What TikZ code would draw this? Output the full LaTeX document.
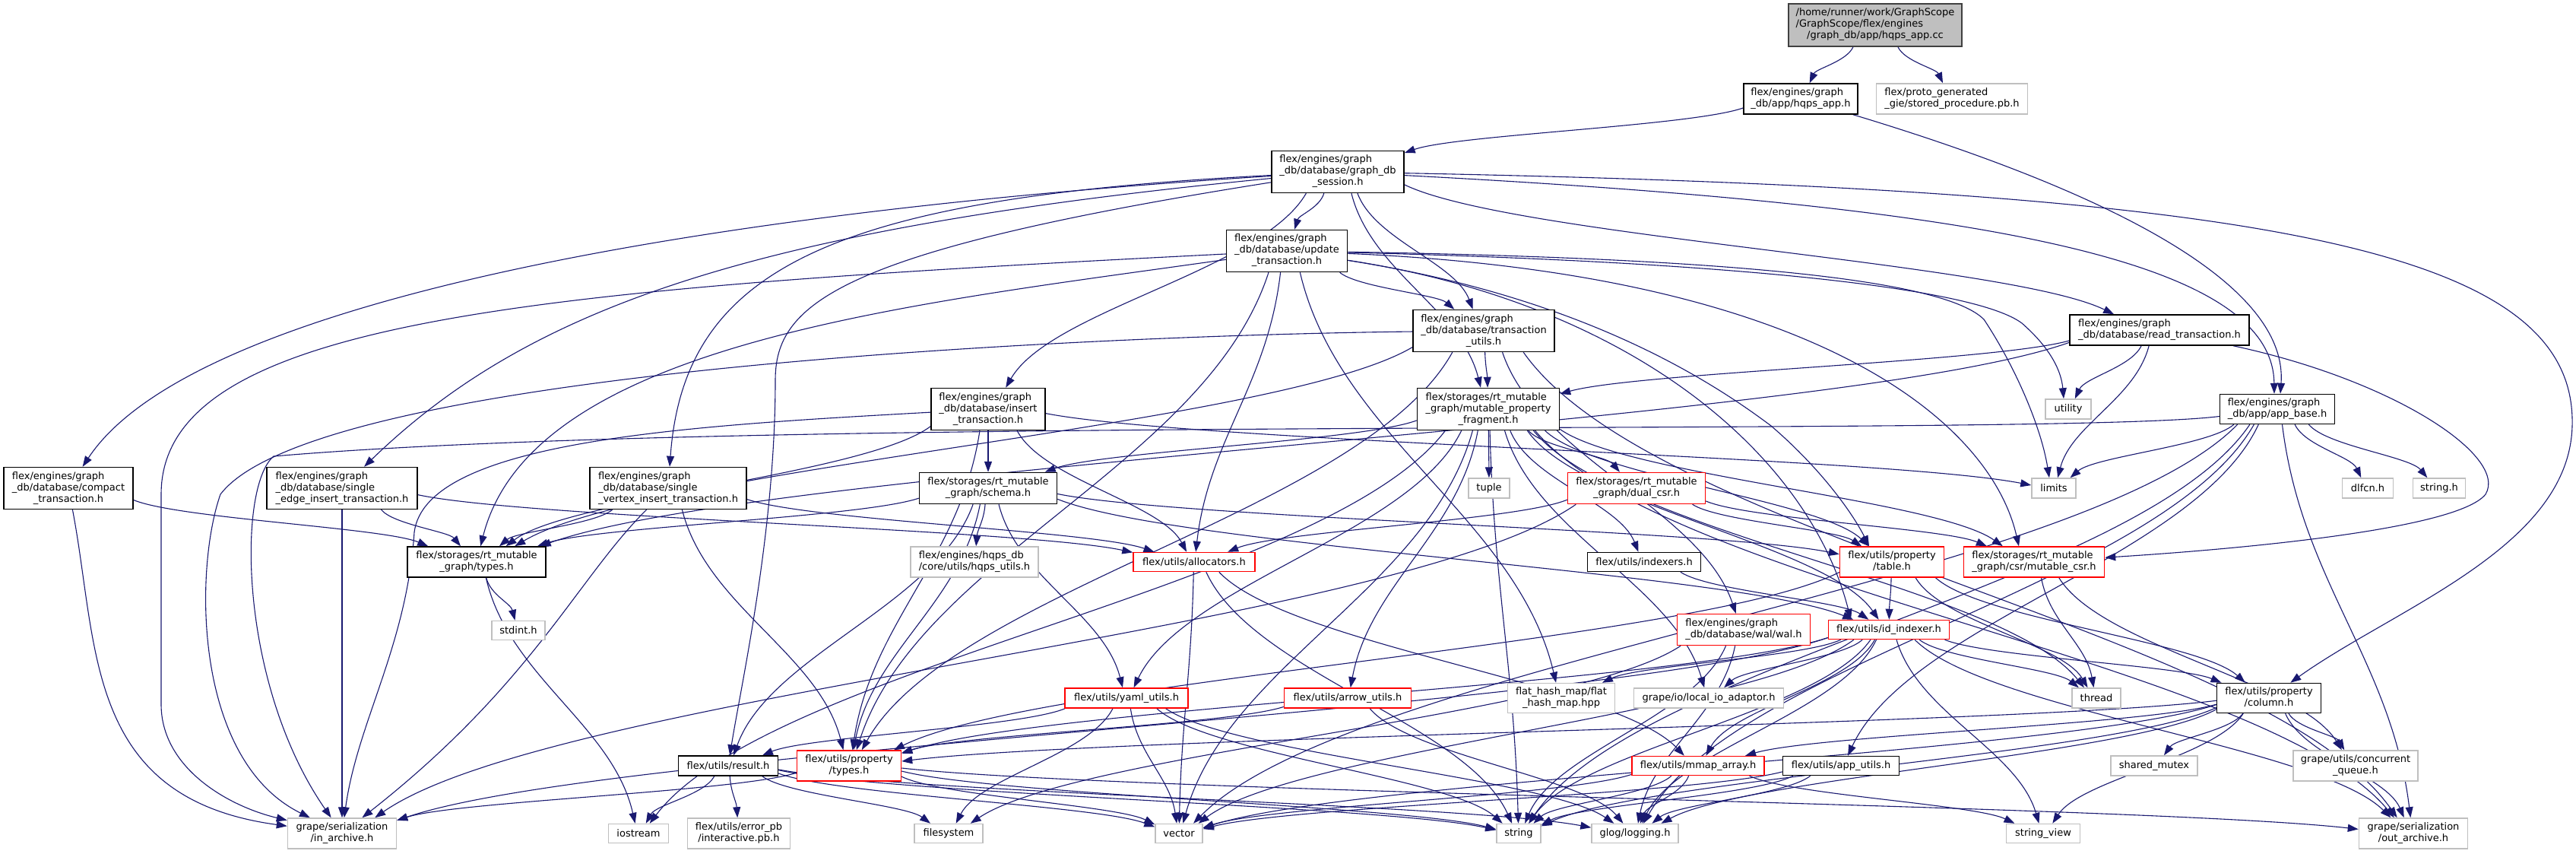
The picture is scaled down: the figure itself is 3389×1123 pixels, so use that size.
\documentclass[tikz,border=0pt]{standalone}
\usepackage{fontspec}
\setmainfont{DejaVu Sans}
\usetikzlibrary{arrows.meta,calc}
\definecolor{edgec}{HTML}{191970}
\definecolor{grayb}{HTML}{BFBFBF}
\newcommand{\lb}[2]{\begin{tabular}{@{}l@{}}#1\\\multicolumn{1}{@{}c@{}}{#2}\end{tabular}}
\pgfdeclarelayer{edges}
\pgfsetlayers{edges,main}
\tikzset{
  box/.style={draw=black, line width=1.5pt, fill=white, inner sep=0pt, font=\fontsize{13}{15}\selectfont},
  redbox/.style={box, draw=red},
  graybox/.style={box, draw=grayb},
  rootbox/.style={box, fill=grayb, draw=black!75},
  edge/.style={draw=edgec, line width=1.1pt, -{Triangle[length=14pt,width=10pt]}},
}
\newcommand{\bx}[6]{\node[#1, minimum width=#4pt, minimum height=#5pt] (#6) at (#2,#3)}
\begin{document}
\begin{tikzpicture}[x=1pt,y=-1pt]
\useasboundingbox (0,0) rectangle (3389,1123);
% rank 0-2
\bx{rootbox}{2467}{33}{228}{56}{root} {\lb{/home/runner/work/GraphScope\\/GraphScope/flex/engines}{/graph\_db/app/hqps\_app.cc}};
\bx{box}{2369}{130}{150}{40}{hqpsh} {\lb{flex/engines/graph}{\_db/app/hqps\_app.h}};
\bx{graybox}{2568}{130}{199}{40}{stored} {\lb{flex/proto\_generated}{\_gie/stored\_procedure.pb.h}};
\bx{box}{1760}{226}{174}{55}{session} {\lb{flex/engines/graph\\\_db/database/graph\_db}{\_session.h}};
\bx{box}{1693}{330}{159}{55}{update} {\lb{flex/engines/graph\\\_db/database/update}{\_transaction.h}};
\bx{box}{1952}{435}{186}{55}{txnutils} {\lb{flex/engines/graph\\\_db/database/transaction}{\_utils.h}};
\bx{box}{2841}{434}{236}{40}{readtxn} {\lb{flex/engines/graph}{\_db/database/read\_transaction.h}};
% rank 5
\bx{box}{1958}{538}{187}{55}{fragment} {\lb{flex/storages/rt\_mutable\\\_graph/mutable\_property}{\_fragment.h}};
\bx{box}{1300}{538}{150}{55}{insert} {\lb{flex/engines/graph\\\_db/database/insert}{\_transaction.h}};
\bx{graybox}{2721}{538}{60}{26}{utility} {utility};
\bx{box}{2996}{538}{151}{39}{appbase} {\lb{flex/engines/graph}{\_db/app/app\_base.h}};
% rank 6
\bx{box}{90}{642}{170}{55}{compact} {\lb{flex/engines/graph\\\_db/database/compact}{\_transaction.h}};
\bx{box}{450}{642}{198}{55}{sedge} {\lb{flex/engines/graph\\\_db/database/single}{\_edge\_insert\_transaction.h}};
\bx{box}{879}{642}{206}{55}{svertex} {\lb{flex/engines/graph\\\_db/database/single}{\_vertex\_insert\_transaction.h}};
\bx{box}{1300}{642}{181}{41}{schema} {\lb{flex/storages/rt\_mutable}{\_graph/schema.h}};
\bx{graybox}{1959}{642}{54}{26}{tuple} {tuple};
\bx{redbox}{2153}{642}{181}{41}{dualcsr} {\lb{flex/storages/rt\_mutable}{\_graph/dual\_csr.h}};
\bx{graybox}{2702}{642}{58}{26}{limits} {limits};
\bx{graybox}{3115}{642}{67}{26}{dlfcn} {dlfcn.h};
\bx{graybox}{3209}{642}{69}{26}{stringh} {string.h};
% rank 7
\bx{box}{627}{739}{182}{40}{rttypes} {\lb{flex/storages/rt\_mutable}{\_graph/types.h}};
\bx{graybox}{1282}{739}{168}{40}{hqpsutils} {\lb{flex/engines/hqps\_db}{/core/utils/hqps\_utils.h}};
\bx{redbox}{1571}{739}{160}{25}{alloc} {flex/utils/allocators.h};
\bx{box}{2163}{739}{149}{25}{indexers} {flex/utils/indexers.h};
\bx{redbox}{2489}{739}{137}{40}{table} {\lb{flex/utils/property}{/table.h}};
\bx{redbox}{2676}{739}{185}{40}{mcsr} {\lb{flex/storages/rt\_mutable}{\_graph/csr/mutable\_csr.h}};
% rank 8
\bx{graybox}{682}{829}{70}{25}{stdint} {stdint.h};
\bx{redbox}{2294}{828}{175}{41}{wal} {\lb{flex/engines/graph}{\_db/database/wal/wal.h}};
\bx{redbox}{2485}{828}{159}{25}{idindexer} {flex/utils/id\_indexer.h};
% rank 9
\bx{redbox}{1482}{918}{162}{26}{yaml} {flex/utils/yaml\_utils.h};
\bx{redbox}{1773}{918}{167}{26}{arrow} {flex/utils/arrow\_utils.h};
\bx{graybox}{2054}{918}{141}{39}{flathash} {\lb{flat\_hash\_map/flat}{\_hash\_map.hpp}};
\bx{graybox}{2248}{918}{197}{26}{localio} {grape/io/local\_io\_adaptor.h};
\bx{graybox}{2758}{918}{64}{26}{thread} {thread};
\bx{box}{2985}{918}{137}{39}{column} {\lb{flex/utils/property}{/column.h}};
% rank 10
\bx{box}{958}{1007}{131}{26}{result} {flex/utils/result.h};
\bx{redbox}{1117}{1007}{137}{40}{proptypes} {\lb{flex/utils/property}{/types.h}};
\bx{redbox}{2234}{1007}{174}{25}{mmap} {flex/utils/mmap\_array.h};
\bx{box}{2422}{1007}{153}{25}{apputils} {flex/utils/app\_utils.h};
\bx{graybox}{2834}{1007}{114}{26}{sharedmutex} {shared\_mutex};
\bx{graybox}{3099}{1007}{164}{40}{cqueue} {\lb{grape/utils/concurrent}{\_queue.h}};
% rank 11
\bx{graybox}{450}{1096}{143}{40}{inarchive} {\lb{grape/serialization}{/in\_archive.h}};
\bx{graybox}{840}{1096}{79}{25}{iostream} {iostream};
\bx{graybox}{972}{1096}{135}{40}{interactive} {\lb{flex/utils/error\_pb}{/interactive.pb.h}};
\bx{graybox}{1248}{1096}{90}{25}{filesystem} {filesystem};
\bx{graybox}{1551}{1096}{62}{25}{vector} {vector};
\bx{graybox}{1998}{1096}{58}{25}{string} {string};
\bx{graybox}{2151}{1096}{114}{25}{glog} {glog/logging.h};
\bx{graybox}{2688}{1096}{97}{25}{stringview} {string\_view};
\bx{graybox}{3175}{1096}{143}{40}{outarchive} {\lb{grape/serialization}{/out\_archive.h}};

\begin{pgfonlayer}{edges}
\foreach \a/\b in {root/hqpsh, root/stored, hqpsh/session,
 session/update, session/txnutils, session/fragment, session/readtxn, session/insert,
 update/txnutils, update/proptypes, update/alloc, update/flathash,
 txnutils/fragment, txnutils/rttypes, txnutils/proptypes, txnutils/wal, txnutils/outarchive,
 readtxn/utility, readtxn/limits, readtxn/fragment, readtxn/rttypes,
 fragment/schema, fragment/tuple, fragment/dualcsr, fragment/indexers, fragment/table, fragment/idindexer, fragment/mcsr, fragment/arrow, fragment/yaml, fragment/localio, fragment/string, fragment/vector, fragment/thread, fragment/iostream, fragment/outarchive,
 insert/schema, insert/alloc, insert/rttypes, insert/proptypes, insert/limits,
 compact/rttypes,
 sedge/rttypes, sedge/inarchive, sedge/alloc,
 svertex/rttypes, svertex/alloc, svertex/proptypes,
 appbase/dlfcn, appbase/stringh, appbase/limits, appbase/outarchive, appbase/apputils, appbase/string, appbase/glog, appbase/vector,
 rttypes/stdint, rttypes/iostream,
 schema/rttypes, schema/hqpsutils, schema/yaml, schema/result, schema/proptypes, schema/table, schema/idindexer,
 alloc/mmap, alloc/vector, alloc/string,
 dualcsr/mcsr, dualcsr/alloc, dualcsr/table, dualcsr/inarchive,
 indexers/idindexer,
 table/idindexer, table/column, table/proptypes, table/thread,
 mcsr/thread, mcsr/cqueue,
 wal/glog, wal/string, wal/filesystem,
 idindexer/column, idindexer/thread, idindexer/localio, idindexer/flathash, idindexer/mmap, idindexer/stringview, idindexer/glog, idindexer/string, idindexer/vector, idindexer/outarchive, idindexer/inarchive, idindexer/proptypes,
 yaml/result, yaml/filesystem, yaml/vector, yaml/string, yaml/glog,
 arrow/proptypes, arrow/glog,
 column/proptypes, column/mmap, column/stringview, column/sharedmutex, column/cqueue, column/outarchive, column/glog, column/string, column/vector,
 result/iostream, result/interactive, result/filesystem, result/vector, result/string, result/glog,
 proptypes/inarchive, proptypes/outarchive, proptypes/vector, proptypes/string,
 mmap/string, mmap/glog, mmap/stringview, mmap/vector,
 apputils/string, apputils/vector, apputils/glog}
 \draw[edge] let \p1=(\a.center), \p2=(\b.center), \p3=(\a.north east), \p4=(\b.north east),
   \n1={\x2-\x1}, \n2={\y2-\y1},
   \n3={min((\x3-\x1)/(abs(\n1)+0.1), (\y3-\y1)/(abs(\n2)+0.1))},
   \n4={min((\x4-\x2)/(abs(\n1)+0.1), (\y4-\y2)/(1.8*abs(\n2)+0.1))},
   \p5=(\x1+\n3*\n1, \y1+\n3*\n2),
   \p6=(\x2-\n4*\n1, \y2-1.8*\n4*\n2),
   \p7=(\x5+0.15*\x6-0.15*\x5, \y5+0.4*\y6-0.4*\y5),
   \p8=(\x6-0.15*\x6+0.15*\x5, \y6-0.4*\y6+0.4*\y5) in
   (\p5) .. controls (\p7) and (\p8) .. (\p6);
% curved connectors
\draw[edge] (hqpsh) .. controls (2800,260) and (3010,380) .. ([xshift=4pt]appbase.north);
\draw[edge] (session) .. controls (2600,270) and (2990,340) .. ([xshift=-4pt]appbase.north);
\draw[edge] (session) .. controls (3000,250) and (3390,330) .. (3384,560) .. controls (3380,720) and (3150,800) .. (column);
\draw[edge] (readtxn) .. controls (3150,500) and (3300,600) .. (3270,650) .. controls (3230,700) and (2900,725) .. (mcsr);
\draw[edge] (compact) .. controls (130,850) and (110,1050) .. (inarchive);
\draw[edge] (update) .. controls (700,380) and (212,420) .. (212,650) -- (212,926) .. controls (212,1010) and (300,1060) .. (inarchive);
\draw[edge] (session) .. controls (900,280) and (250,400) .. (compact);
\draw[edge] (session) .. controls (1000,300) and (700,400) .. (sedge);
\draw[edge] (session) .. controls (1100,260) and (900,350) .. (svertex);
\draw[edge] (session) .. controls (1100,330) and (1020,400) .. (1020,500) .. controls (1020,700) and (975,900) .. (result);
\draw[edge] (update) .. controls (1200,400) and (700,450) .. (rttypes);
\draw[edge] (txnutils) .. controls (1500,440) and (420,480) .. (290,650) .. controls (255,750) and (255,1000) .. (inarchive);
\draw[edge] (appbase) .. controls (2700,575) and (1000,545) .. (360,600) .. controls (312,640) and (314,900) .. (inarchive);
\draw[edge] (insert) .. controls (900,560) and (560,580) .. (545,700) .. controls (535,850) and (470,950) .. (inarchive);
\draw[edge] (svertex) .. controls (760,760) and (700,900) .. (inarchive);
\draw[edge] (update) .. controls (2300,340) and (2560,370) .. (2610,420) .. controls (2650,480) and (2685,560) .. ([xshift=-6pt]limits.north);
\draw[edge] (update) .. controls (2300,345) and (2600,380) .. (2660,425) .. controls (2700,460) and (2712,490) .. ([xshift=-6pt]utility.north);
\draw[edge] (update) .. controls (2080,390) and (2250,500) .. (2330,560) .. controls (2400,620) and (2440,680) .. ([xshift=-30pt]table.north);
\draw[edge] (update) .. controls (2150,400) and (2380,600) .. ([xshift=-50pt]idindexer.north);
\draw[edge] (update) .. controls (2400,360) and (2620,560) .. ([xshift=-20pt]mcsr.north);
\end{pgfonlayer}
\end{tikzpicture}
\end{document}
